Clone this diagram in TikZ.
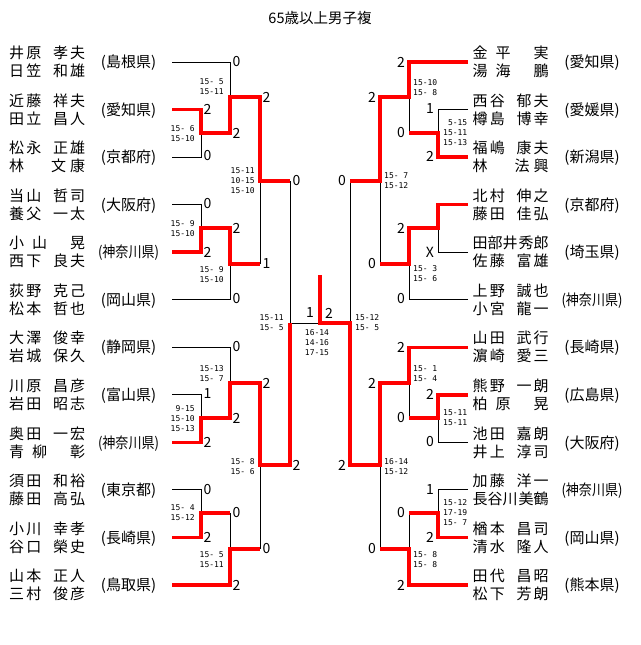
\documentclass[tikz,border=0pt]{standalone}
\usepackage{fontspec}
\usepackage{graphicx}
\usepackage{tikz}
\setmainfont{Noto Sans CJK JP}
\newfontfamily\monofnt{DejaVu Sans Mono}

% spread the letters of a name over a fixed width
\newlength\namew \setlength\namew{76pt}
\def\spreadA#1#2{#1\ifx\relax#2\else\hfill\expandafter\spreadA\expandafter#2\fi}
\def\wsp{\hskip.5em\relax}
\newcommand\pname[2]{\makebox[\namew][s]{\expandafter\spreadA#1\relax\hfill\hskip.5em minus.5em\hfill\expandafter\spreadA#2\relax}}
\newsavebox\prefbox
\newcommand\pref[1]{\sbox\prefbox{(#1)}\ifdim\wd\prefbox>61pt\resizebox{61pt}{\height}{\usebox\prefbox}\else\usebox\prefbox\fi}
\newcommand\zs{\hphantom{0}}

\begin{document}
\begin{tikzpicture}[x=1pt,y=-1pt,
    lossline/.style={black, line width=1pt},
    winline/.style={red, line width=3.5pt},
    nmtext/.style={anchor=base west, inner sep=0pt, font=\fontsize{15}{18}\selectfont},
    preftext/.style={anchor=base, inner sep=0pt, font=\fontsize{15}{18}\selectfont},
    ptstext/.style={inner sep=0pt, font=\fontsize{14}{14}\selectfont},
    gametext/.style={inner sep=0pt, font=\monofnt\fontsize{8}{10}\selectfont}]
    \useasboundingbox (0,0) rectangle (640,645);

    % Title
    \node[ptstext] (title) at (320,18) {\fontsize{14.5}{16}\selectfont 65歳以上男子複};

    % Left entries
    \foreach \sa/\ga/\sb/\gb/\pf [count=\i] in {
        井原/孝夫/日笠/和雄/島根県,
        近藤/祥夫/田立/昌人/愛知県,
        松永/正雄/林\wsp/文康/京都府,
        当山/哲司/養父/一太/大阪府,
        小山/晃/西下/良夫/神奈川県,
        荻野/克己/松本/哲也/岡山県,
        大澤/俊幸/岩城/保久/静岡県,
        川原/昌彦/岩田/昭志/富山県,
        奥田/一宏/青柳/彰/神奈川県,
        須田/和裕/藤田/高弘/東京都,
        小川/幸孝/谷口/榮史/長崎県,
        山本/正人/三村/俊彦/鳥取県}{
        \pgfmathsetmacro\y{62+(\i-1)*47.545}
        \coordinate (L\i) at (172,\y);
        \node[nmtext] (L\i a) at (9,\y-3.3) {\pname{\sa}{\ga}};
        \node[nmtext] (L\i b) at (9,\y+14.7) {\pname{\sb}{\gb}};
        \node[preftext] (L\i p) at (128.5,\y+5.7) {\pref{\pf}};
    }

    % Right entries
    \foreach \sa/\ga/\sb/\gb/\pf [count=\i] in {
        金平/実/湯海/鵬/愛知県,
        西谷/郁夫/樽島/博幸/愛媛県,
        福嶋/康夫/林\wsp/法興/新潟県,
        北村/伸之/藤田/佳弘/京都府,
        田部井/秀郎/佐藤/富雄/埼玉県,
        上野/誠也/小宮/龍一/神奈川県,
        山田/武行/濵崎/愛三/長崎県,
        熊野/一朗/柏原/晃/広島県,
        池田/嘉朗/井上/淳司/大阪府,
        加藤/洋一/長谷川/美鶴/神奈川県,
        楢本/昌司/清水/隆人/岡山県,
        田代/昌昭/松下/芳朗/熊本県}{
        \pgfmathsetmacro\y{62+(\i-1)*47.545}
        \coordinate (R\i) at (468,\y);
        \node[nmtext] (R\i a) at (472.5,\y-3.3) {\pname{\sa}{\ga}};
        \node[nmtext] (R\i b) at (472.5,\y+14.7) {\pname{\sb}{\gb}};
        \node[preftext] (R\i p) at (592,\y+5.7) {\pref{\pf}};
    }

    % Left bracket, losers
    \draw[lossline] (L1) -| (230,97);
    \draw[lossline] (L3) -| (201,133);
    \draw[lossline] (L4) -| (201,228);
    \draw[lossline] (L6) -| (230,264);
    \draw[lossline] (260,264) -- (260,181);
    \draw[lossline] (290,181) |- (320,323);
    \draw[lossline] (L7) -| (230,383);
    \draw[lossline] (L8) -| (201,418);
    \draw[lossline] (L10) -| (201,513);
    \draw[lossline] (230,513) -- (230,549);
    \draw[lossline] (260,465) -- (260,549);

    % Right bracket, losers
    \draw[lossline] (R2) -| (438,133);
    \draw[lossline] (409,133) -- (409,97);
    \draw[lossline] (R5) -| (438,228);
    \draw[lossline] (R6) -| (409,264);
    \draw[lossline] (380,264) -- (380,181);
    \draw[lossline] (350,181) -- (350,323);
    \draw[lossline] (R9) -| (438,418);
    \draw[lossline] (409,418) -- (409,383);
    \draw[lossline] (R10) -| (438,513);
    \draw[lossline] (409,513) -- (409,549);
    \draw[lossline] (380,549) -- (380,465);

    % Left bracket, winners
    \draw[winline] (L2) -| (201,133) -| (230,97) -| (260,181) -- (290,181);
    \draw[winline] (L5) -| (201,228) -| (230,264) -- (260,264);
    \draw[winline] (L9) -| (201,418) -| (230,383) -| (260,465) -| (290,323);
    \draw[winline] (L11) -| (201,513) -- (230,513);
    \draw[winline] (L12) -| (230,549) -- (260,549);

    % Right bracket, winners (champion up to the top mark)
    \draw[winline] (R1) -| (409,97) -| (380,181) -- (350,181);
    \draw[winline] (R3) -| (438,133) -- (409,133);
    \draw[winline] (R4) -| (438,228) -| (409,264) -- (380,264);
    \draw[winline] (R7) -| (409,383) -| (380,465) -| (350,323) -| (320,275);
    \draw[winline] (R8) -| (438,418) -- (409,418);
    \draw[winline] (R11) -| (438,513) -- (409,513);
    \draw[winline] (R12) -| (409,549) -- (380,549);

    % Points, left
    \foreach \x/\y/\s [count=\i] in {230/62/0, 201/109/2, 201/156/0, 230/133/2, 260/97/2,
        290/181/0, 201/204/0, 201/252/2, 230/228/2, 230/299/0, 260/264/1, 230/347/0,
        201/394/1, 201/442/2, 230/418/2, 260/383/2, 290/465/2, 201/490/0, 201/537/2,
        230/513/0, 230/585/2, 260/549/0}
        \node[ptstext, anchor=west] (lp\i) at (\x+2.5,\y) {\s};

    % Points, right
    \foreach \x/\y/\s [count=\i] in {409/62/2, 380/97/2, 438/109/1, 438/156/2, 409/133/0,
        350/181/0, 438/252/X, 409/228/2, 409/299/0, 380/264/0, 409/347/2, 380/383/2,
        438/394/2, 438/442/0, 409/418/0, 350/465/2, 438/490/1, 438/537/2, 409/513/0,
        409/585/2, 380/549/0}
        \node[ptstext, anchor=east] (rp\i) at (\x-4,\y) {\s};

    % Final
    \node[ptstext] (fl) at (310,313) {1};
    \node[ptstext] (fr) at (329,313) {2};
    \node[gametext, align=center] (fg) at (317,343) {16-14\\14-16\\17-15};

    % Game scores, left
    \foreach \x/\y/\t [count=\i] in {224/87/{15-\zs5\\15-11}, 195/133.5/{15-\zs6\\15-10},
        255/181/{15-11\\10-15\\15-10}, 195/228.5/{15-\zs9\\15-10}, 224/275/{15-\zs9\\15-10},
        284/323/{15-11\\15-\zs5}, 224/373.5/{15-13\\15-\zs7}, 195/419/{9-15\\15-10\\15-13},
        255/467/{15-\zs8\\15-\zs6}, 195/513/{15-\zs4\\15-12}, 224/559.5/{15-\zs5\\15-11}}
        \node[gametext, align=right, anchor=east] (lg\i) at (\x,\y) {\t};

    % Game scores, right
    \foreach \x/\y/\t [count=\i] in {413/88/{15-10\\15-\zs8}, 443/133/{5-15\\15-11\\15-13},
        384/181/{15-\zs7\\15-12}, 413/274/{15-\zs3\\15-\zs6}, 355/323/{15-12\\15-\zs5},
        413/374/{15-\zs1\\15-\zs4}, 443/418/{15-11\\15-11}, 384/467/{16-14\\15-12},
        443/513/{15-12\\17-19\\15-\zs7}, 413/560/{15-\zs8\\15-\zs8}}
        \node[gametext, align=right, anchor=west] (rg\i) at (\x,\y) {\t};
\end{tikzpicture}
\end{document}
